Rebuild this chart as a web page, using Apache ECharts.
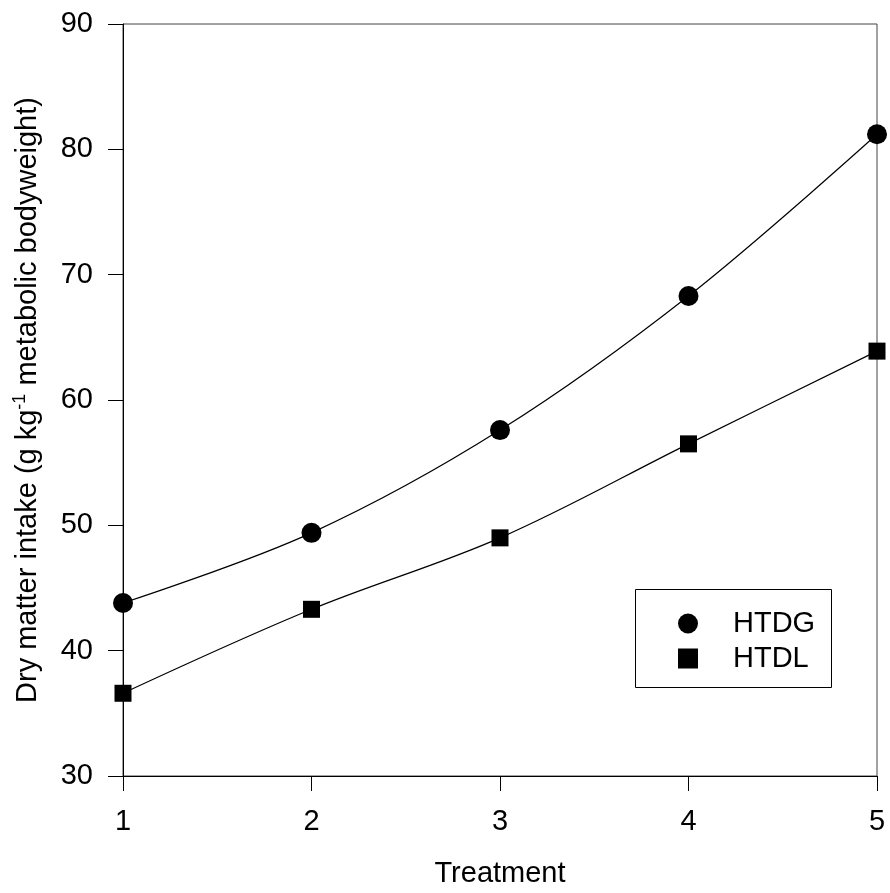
<!DOCTYPE html>
<html>
<head>
<meta charset="utf-8">
<script src="https://cdn.jsdelivr.net/npm/echarts@6/dist/echarts.min.js"></script>
<style>
  html,body{margin:0;padding:0;background:#fff}
  #box{width:890px;height:893px}
</style>
</head>
<body>
<div id="box"></div>
<script>
// treatment levels and the two series
var treatments = [1, 2, 3, 4, 5];
var htdg = [43.8, 49.4, 57.6, 68.3, 81.2];
var htdl = [36.6, 43.3, 49.0, 56.5, 63.9];
var yTicks = [30, 40, 50, 60, 70, 80, 90];

function pairs(xs, ys){
  return xs.map(function(x, i){ return [x, ys[i]]; });
}

var font = 'Liberation Sans, Arial, sans-serif';
var myChart = echarts.init(document.getElementById('box'));
var option = {
  backgroundColor: '#fff',
  animation: false,
  grid: {
    left: 123, top: 24, right: 13, bottom: 116,
    show: true, borderColor: '#444', borderWidth: 1
  },
  legend: {
    orient: 'vertical',
    left: 673, top: 604,
    itemWidth: 20, itemHeight: 20,
    itemGap: 6,
    data: [{name: 'HTDG', icon: 'circle'}, {name: 'HTDL', icon: 'rect'}],
    textStyle: {fontFamily: font, fontSize: 29, color: '#000', padding: [0, 0, 0, 30]}
  },
  graphic: [{
    type: 'rect',
    shape: {x: 635.5, y: 589.5, width: 196, height: 98},
    style: {fill: 'none', stroke: '#000', lineWidth: 1},
    z: -1
  }],
  xAxis: {
    type: 'value',
    min: 1, max: 5, interval: 1,
    name: 'Treatment',
    nameLocation: 'middle',
    nameGap: 83,
    nameTextStyle: {fontFamily: font, fontSize: 29, color: '#000'},
    axisLine: {lineStyle: {color: '#000', width: 1}},
    axisTick: {show: true, length: 15, lineStyle: {color: '#000'}},
    axisLabel: {fontFamily: font, fontSize: 29, color: '#000', margin: 31},
    splitLine: {show: false}
  },
  yAxis: {
    type: 'value',
    min: yTicks[0], max: yTicks[yTicks.length - 1], interval: 10,
    name: '{a|Dry matter intake (g kg}{s|-1}{a| metabolic bodyweight)}',
    nameLocation: 'middle',
    nameGap: 81,
    nameTextStyle: {
      fontFamily: font, fontSize: 29, color: '#000',
      rich: {
        a: {fontFamily: font, fontSize: 29, color: '#000', lineHeight: 31, verticalAlign: 'bottom'},
        s: {fontFamily: font, fontSize: 18, color: '#000', lineHeight: 31, verticalAlign: 'top'}
      }
    },
    axisLine: {show: true, lineStyle: {color: '#000', width: 1}},
    axisTick: {show: true, length: 15, lineStyle: {color: '#000'}},
    axisLabel: {fontFamily: font, fontSize: 29, color: '#000', margin: 30},
    splitLine: {show: false}
  },
  series: [
    {
      name: 'HTDG',
      type: 'line',
      smooth: 0.35,
      symbol: 'circle',
      symbolSize: 20,
      color: '#000',
      lineStyle: {color: '#000', width: 1.2},
      itemStyle: {color: '#000'},
      data: pairs(treatments, htdg)
    },
    {
      name: 'HTDL',
      type: 'line',
      smooth: 0.35,
      symbol: 'rect',
      symbolSize: 17,
      color: '#000',
      lineStyle: {color: '#000', width: 1.2},
      itemStyle: {color: '#000'},
      data: pairs(treatments, htdl)
    }
  ]
};
myChart.setOption(option);
</script>
</body>
</html>
